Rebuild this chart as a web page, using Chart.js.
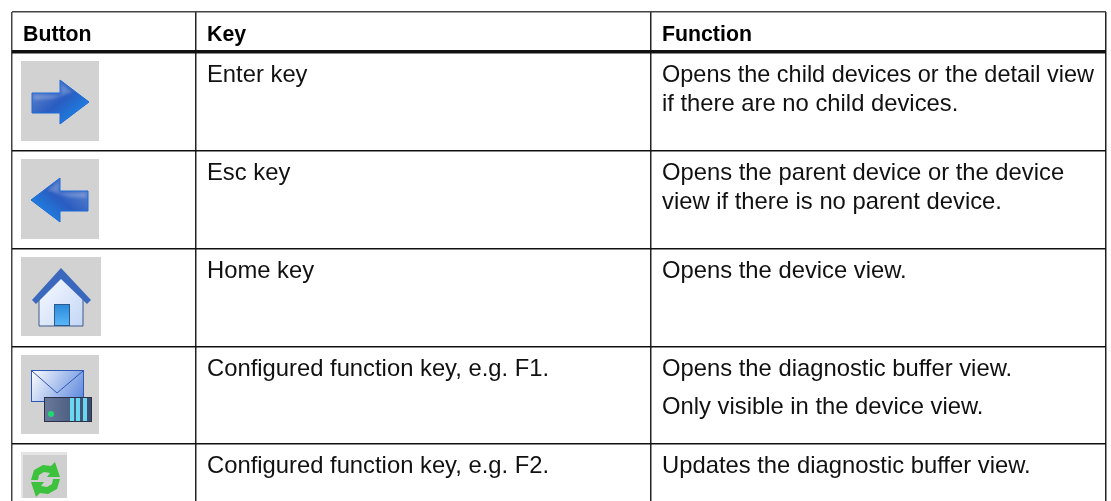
<!DOCTYPE html>
<html>
<head>
<meta charset="utf-8">
<title>Button keys</title>
<script src="https://cdn.jsdelivr.net/npm/chart.js@4"></script>
<style>
  html, body { margin: 0; padding: 0; background: #fff; }
  #wrap { width: 1111px; height: 501px; }
</style>
</head>
<body>
<div id="wrap"><canvas id="tableChart" width="1111" height="501"></canvas></div>
<script>
const headers = ["Button", "Key", "Function"];
const keys = ["Enter key", "Esc key", "Home key", "Configured function key, e.g. F1.", "Configured function key, e.g. F2."];
const functions = [
  ["Opens the child devices or the detail view", "if there are no child devices."],
  ["Opens the parent device or the device", "view if there is no parent device."],
  ["Opens the device view."],
  ["Opens the diagnostic buffer view.", "", "Only visible in the device view."],
  ["Updates the diagnostic buffer view."]
];
const icons = ["right", "left", "home", "mail", "refresh"];
const columnEdges = [0, 184, 639, 1094];
const rowEdges = [0, 40, 139, 237, 335, 432];

const textFont = '"Liberation Sans", Arial, sans-serif';

function gradient(ctx, x0, y0, x1, y1, stops) {
  const g = ctx.createLinearGradient(x0, y0, x1, y1);
  stops.forEach((s, i) => g.addColorStop(i / (stops.length - 1), s));
  return g;
}

function poly(ctx, pts) {
  ctx.beginPath();
  pts.forEach((p, i) => i ? ctx.lineTo(p[0], p[1]) : ctx.moveTo(p[0], p[1]));
  ctx.closePath();
}

// all icon drawing is relative to the top left of the grey button
function drawArrow(ctx, flip) {
  ctx.fillStyle = "#d2d2d2";
  ctx.fillRect(0, 0, 78, 80);
  ctx.filter = "blur(0.5px)";
  ctx.save();
  if (flip) { ctx.translate(78, 0); ctx.scale(-1, 1); }
  const pts = [[11, 32], [39, 32], [39, 19], [68, 41], [39, 63], [39, 52], [11, 52]];
  poly(ctx, pts);
  ctx.fillStyle = gradient(ctx, 20, 24, 52, 62, ["#5a80cc", "#2a5cc0", "#1c84e6"]);
  ctx.fill();
  ctx.strokeStyle = "#1b6ad8";
  ctx.lineWidth = 1;
  ctx.stroke();
  // soft shine along the top of the shaft
  ctx.filter = "blur(1.5px)";
  ctx.fillStyle = "rgba(255,255,255,0.22)";
  poly(ctx, [[13, 34], [40, 34], [40, 23], [52, 31], [30, 38], [13, 39]]);
  ctx.fill();
  ctx.restore();
  ctx.filter = "none";
}

function drawHome(ctx) {
  ctx.fillStyle = "#d2d2d2";
  ctx.fillRect(0, 0, 80, 79);
  ctx.filter = "blur(0.5px)";
  poly(ctx, [[40, 20], [62, 41], [62, 69], [18, 69], [18, 41]]);
  ctx.fillStyle = gradient(ctx, 18, 30, 62, 68, ["#f4f8ff", "#c4d6f6"]);
  ctx.fill();
  ctx.strokeStyle = "#3b5a8c";
  ctx.lineWidth = 1;
  ctx.stroke();
  poly(ctx, [[11, 43], [40, 11], [70, 43], [66, 47], [40, 22], [15, 47]]);
  ctx.fillStyle = "#3a68bc";
  ctx.fill();
  ctx.fillStyle = gradient(ctx, 33, 47, 33, 69, ["#2a88d8", "#5cb8fa"]);
  ctx.fillRect(33, 47, 16, 22);
  ctx.strokeStyle = "#2c5a8a";
  ctx.strokeRect(33.5, 47.5, 15, 21);
  ctx.filter = "none";
}

function drawMail(ctx) {
  ctx.fillStyle = "#d2d2d2";
  ctx.fillRect(0, 0, 78, 79);
  ctx.filter = "blur(0.5px)";
  ctx.fillStyle = gradient(ctx, 10, 15, 62, 46, ["#ffffff", "#5a86dc"]);
  ctx.fillRect(10, 15, 52, 31);
  ctx.strokeStyle = "#2f58b4";
  ctx.lineWidth = 1;
  ctx.strokeRect(10.5, 15.5, 52, 31);
  ctx.beginPath();
  ctx.moveTo(11, 16);
  ctx.lineTo(36, 38);
  ctx.lineTo(62, 16);
  ctx.stroke();
  ctx.fillStyle = gradient(ctx, 23, 42, 70, 42, ["#6a7a9c", "#3a4a6c"]);
  ctx.fillRect(23, 42, 47, 24);
  ctx.strokeStyle = "#2a3048";
  ctx.strokeRect(23.5, 42.5, 47, 24);
  ctx.fillStyle = "#68d8f0";
  [49, 55, 62].forEach(x => ctx.fillRect(x, 43, 4, 23));
  ctx.fillStyle = "#20d870";
  ctx.beginPath();
  ctx.arc(30, 59, 3, 0, Math.PI * 2);
  ctx.fill();
  ctx.filter = "none";
}

function drawRefresh(ctx) {
  ctx.fillStyle = "#e4e4e4";
  ctx.fillRect(0, 0, 46, 46);
  ctx.fillStyle = "#cfcfcf";
  ctx.fillRect(2, 3, 44, 43);
  ctx.filter = "blur(0.6px)";
  const arrow = [[10, 28], [13, 18], [22, 13], [30, 14], [34, 10], [39, 25], [26, 25], [29, 21], [23, 20], [18, 23], [17, 28]];
  ctx.fillStyle = "#3cc23c";
  poly(ctx, arrow);
  ctx.fill();
  ctx.save();
  ctx.translate(49, 55);
  ctx.rotate(Math.PI);
  poly(ctx, arrow);
  ctx.fill();
  ctx.restore();
  ctx.filter = "none";
}

const iconDraw = {
  right: ctx => drawArrow(ctx, false),
  left: ctx => drawArrow(ctx, true),
  home: drawHome,
  mail: drawMail,
  refresh: drawRefresh
};

const tablePlugin = {
  id: "tablePlugin",
  afterDraw(chart) {
    const { ctx, scales: { x, y } } = chart;
    const px = v => x.getPixelForValue(v);
    const py = v => y.getPixelForValue(v);
    ctx.save();
    ctx.textBaseline = "alphabetic";
    ctx.textAlign = "left";

    ctx.fillStyle = "#000";
    ctx.font = "bold 21.3px " + textFont;
    headers.forEach((h, i) => ctx.fillText(h, px(columnEdges[i]) + 11, py(rowEdges[0]) + 29));

    keys.forEach((k, r) => {
      const top = py(rowEdges[r + 1]);
      ctx.font = "23.8px " + textFont;
      ctx.fillStyle = "#111";
      const base = top + (r === 0 ? 30 : 29);
      ctx.fillText(k, px(columnEdges[1]) + 11, base);
      let line = base;
      functions[r].forEach(t => {
        if (t === "") { line += 9.5; return; }
        ctx.fillText(t, px(columnEdges[2]) + 11, line, 432);
        line += 28.5;
      });
      ctx.save();
      ctx.translate(px(columnEdges[0]) + 9, top + (r === 0 ? 9 : 8));
      iconDraw[icons[r]](ctx);
      ctx.restore();
    });
    ctx.restore();
  }
};

new Chart(document.getElementById("tableChart"), {
  type: "scatter",
  data: { datasets: [{ data: [], showLine: false }] },
  plugins: [tablePlugin],
  options: {
    responsive: false,
    animation: false,
    events: [],
    layout: { padding: { left: 12, top: 12, right: 5, bottom: 0 } },
    plugins: { legend: { display: false }, tooltip: { enabled: false } },
    scales: {
      x: {
        type: "linear",
        position: "top",
        min: 0,
        max: 1094,
        border: { display: false },
        afterBuildTicks: axis => { axis.ticks = columnEdges.map(value => ({ value })); },
        ticks: { display: false },
        grid: {
          color: c => (c.tick && c.tick.value === 0 ? "#444" : "#222"),
          lineWidth: 1.5,
          drawTicks: false
        }
      },
      y: {
        type: "linear",
        reverse: true,
        min: 0,
        max: 489,
        border: { display: false },
        afterBuildTicks: axis => { axis.ticks = rowEdges.map(value => ({ value })); },
        ticks: { display: false },
        grid: {
          color: c => (c.tick && c.tick.value === 0 ? "#444" : "#111"),
          lineWidth: c => (c.tick && c.tick.value === rowEdges[1] ? 3.5 : 1.5),
          drawTicks: false
        }
      }
    }
  }
});
</script>
</body>
</html>
